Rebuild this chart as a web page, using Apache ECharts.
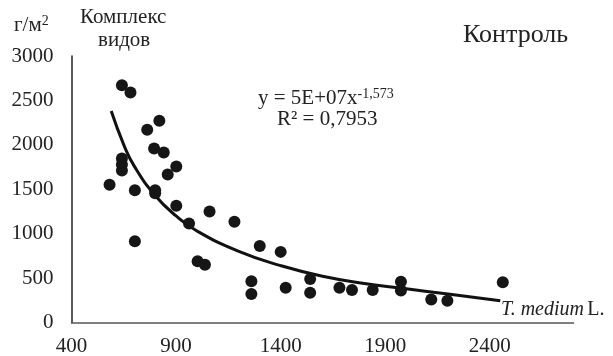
<!DOCTYPE html>
<html>
<head>
<meta charset="utf-8">
<script src="https://cdn.jsdelivr.net/npm/echarts@6/dist/echarts.min.js"></script>
<style>
  html, body { margin: 0; padding: 0; background: #fff; }
  #chart { width: 613px; height: 356px; }
</style>
</head>
<body>
<div id="chart"></div>
<script>
// observed points: [T. medium, biomass g/m2]
const points = [
  [641, 2670], [682, 2590], [820, 2270], [762, 2170], [795, 1960], [841, 1915],
  [641, 1845], [641, 1780], [641, 1710], [901, 1755], [860, 1665], [582, 1550],
  [703, 1490], [800, 1490], [800, 1455], [901, 1315], [1060, 1250], [1179, 1135],
  [962, 1115], [703, 915], [1300, 860], [1400, 795], [1003, 690], [1038, 650],
  [1260, 465], [1260, 320], [1424, 390], [1541, 490], [1541, 335], [1681, 390],
  [1741, 365], [1840, 365], [1975, 458], [1975, 360], [2120, 260], [2197, 245],
  [2462, 452]
];

// power trendline
const trendX = [590, 650, 700, 800, 900, 1000, 1200, 1400, 1600, 1800, 2000, 2200, 2450];
const trendY = [2380, 2000, 1760, 1430, 1200, 1030, 800, 640, 520, 440, 380, 320, 245];

const xTicks = [400, 900, 1400, 1900, 2400];
const yTicks = [0, 500, 1000, 1500, 2000, 2500, 3000];

const font = "'Liberation Serif', 'DejaVu Serif', serif";
const chart = echarts.init(document.getElementById("chart"));

const option = {
  animation: false,
  grid: { left: 71.5, top: 56, width: 502, bottom: 33.5, outerBoundsMode: "none", containLabel: false },
  xAxis: {
    type: "value",
    min: 400,
    max: 2800,
    interval: 500,
    axisLine: { lineStyle: { color: "#555", width: 1.5 } },
    axisTick: { show: false },
    splitLine: { show: false },
    axisLabel: {
      color: "#222",
      fontFamily: font,
      fontSize: 21,
      margin: 13,
      showMaxLabel: false,
      formatter: (v) => (xTicks.includes(v) ? String(v) : "")
    }
  },
  yAxis: {
    type: "value",
    min: 0,
    max: 3000,
    interval: 500,
    axisLine: { show: true, lineStyle: { color: "#222", width: 1.5 } },
    axisTick: { show: false },
    splitLine: { show: false },
    axisLabel: {
      color: "#222",
      fontFamily: font,
      fontSize: 21,
      margin: 18,
      padding: [4, 0, 0, 0],
      formatter: (v) => (yTicks.includes(v) ? String(v) : "")
    }
  },
  series: [
    {
      type: "scatter",
      data: points,
      symbolSize: 12,
      itemStyle: { color: "#161616", opacity: 1 },
      z: 3
    },
    {
      type: "line",
      data: trendX.map((x, i) => [x, trendY[i]]),
      smooth: 0.5,
      showSymbol: false,
      lineStyle: { color: "#111", width: 3 },
      z: 2
    }
  ],
  graphic: [
    {
      type: "text", left: 14, top: 14,
      style: {
        text: "{a|г/м}{s|2}",
        rich: {
          a: { fontFamily: font, fontSize: 21, fill: "#222" },
          s: { fontFamily: font, fontSize: 14, fill: "#222", verticalAlign: "top", padding: [0, 0, 9, 0] }
        }
      }
    },
    {
      type: "text", left: 80, top: 7,
      style: { text: "Комплекс", fontFamily: font, fontSize: 21, fill: "#222" }
    },
    {
      type: "text", left: 98, top: 30,
      style: { text: "видов", fontFamily: font, fontSize: 21, fill: "#222" }
    },
    {
      type: "text", left: 463, top: 22,
      style: { text: "Контроль", fontFamily: font, fontSize: 26, fill: "#222" }
    },
    {
      type: "text", left: 258, top: 87,
      style: {
        text: "{a|y = 5E+07x}{s|-1,573}",
        rich: {
          a: { fontFamily: font, fontSize: 21, fill: "#222" },
          s: { fontFamily: font, fontSize: 14, fill: "#222", verticalAlign: "top", padding: [0, 0, 9, 0] }
        }
      }
    },
    {
      type: "text", left: 277, top: 109,
      style: { text: "R² = 0,7953", fontFamily: font, fontSize: 21, fill: "#222" }
    },
    {
      type: "text", left: 501, top: 300,
      style: {
        text: "{i|T. medium} {a|L.}",
        rich: {
          i: { fontFamily: font, fontSize: 20, fontStyle: "italic", fill: "#222" },
          a: { fontFamily: font, fontSize: 20, fill: "#222" }
        }
      }
    }
  ]
};

chart.setOption(option);
</script>
</body>
</html>
